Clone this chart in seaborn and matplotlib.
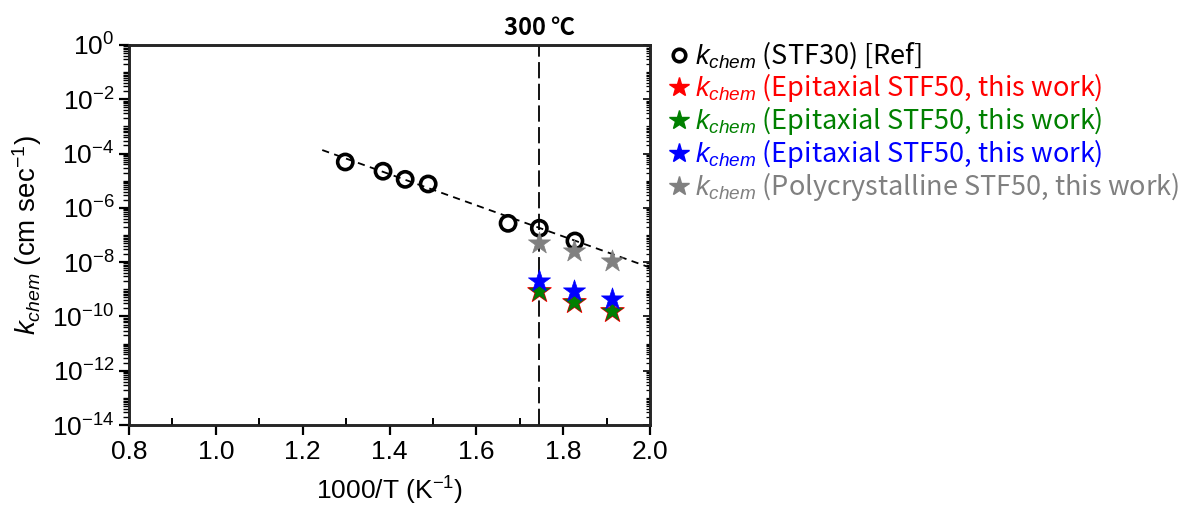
import numpy as np
import pandas as pd
import matplotlib
matplotlib.use("Agg")
import matplotlib.pyplot as plt
import seaborn as sns
from matplotlib.lines import Line2D
from matplotlib.ticker import LogLocator, FixedLocator, NullFormatter, FuncFormatter, MultipleLocator

# ---- data ----
ref_x = [1.298, 1.385, 1.436, 1.489, 1.673, 1.745, 1.827]
ref_logk = [-4.31, -4.65, -4.95, -5.12, -6.57, -6.75, -7.22]
epi_x = [1.745, 1.825, 1.912]
red_logk = [-9.05, -9.45, -9.80]
green_logk = [-9.05, -9.45, -9.80]
blue_logk = [-8.70, -9.06, -9.36]
poly_x = [1.745, 1.825, 1.912]
poly_logk = [-7.28, -7.58, -7.95]
fit_x = [1.245, 2.0]
fit_logk = [-3.87, -8.20]
vline_x = 1.745

labels = [r"$k_{chem}$ (STF30) [Ref]",
          r"$k_{chem}$ (Epitaxial STF50, this work)",
          r"$k_{chem}$ (Epitaxial STF50, this work)",
          r"$k_{chem}$ (Epitaxial STF50, this work)",
          r"$k_{chem}$ (Polycrystalline STF50, this work)"]
colors = ["black", "red", "green", "blue", "gray"]

sns.set_style("ticks")
plt.rcParams['font.family'] = ['Liberation Sans', 'DejaVu Sans']
plt.rcParams['mathtext.fontset'] = 'custom'
plt.rcParams['mathtext.rm'] = 'Liberation Sans'
plt.rcParams['mathtext.it'] = 'Liberation Sans:italic'
for k in ['text.color', 'axes.labelcolor', 'xtick.color', 'ytick.color']:
    plt.rcParams[k] = 'black'

fig = plt.figure(figsize=(11.86, 5.13), dpi=100)
ax = fig.add_axes([0.1088, 0.1715, 0.4393, 0.7408])

def tolin(v):
    return [10 ** a for a in v]

sns.lineplot(x=fit_x, y=tolin(fit_logk), ax=ax, color="black", lw=1.3,
             linestyle=(0, (4, 3)), legend=False)
ax.axvline(vline_x, color="black", lw=1.3, linestyle=(0, (9, 3)))

sns.scatterplot(x=ref_x, y=tolin(ref_logk), ax=ax, marker="o", s=120,
                facecolor="none", edgecolor="black", linewidth=2.6, label=labels[0], zorder=3)
sns.scatterplot(x=epi_x, y=tolin(red_logk), ax=ax, marker="*", s=310,
                color="red", edgecolor="red", linewidth=0.8, label=labels[1], zorder=3)
sns.scatterplot(x=epi_x, y=tolin(green_logk), ax=ax, marker="*", s=250,
                color="green", edgecolor="#1a5e1a", linewidth=0.5, label=labels[2], zorder=4)
sns.scatterplot(x=epi_x, y=tolin(blue_logk), ax=ax, marker="*", s=280,
                color="blue", edgecolor="blue", linewidth=0.5, label=labels[3], zorder=4)
sns.scatterplot(x=poly_x, y=tolin(poly_logk), ax=ax, marker="*", s=280,
                color="gray", edgecolor="gray", linewidth=0.5, label=labels[4], zorder=4)

ax.set_yscale("log")
ax.set_xlim(0.8, 2.0)
ax.set_ylim(1e-14, 1e0)
ax.xaxis.set_major_locator(MultipleLocator(0.2))
ax.xaxis.set_minor_locator(MultipleLocator(0.1))
ax.xaxis.set_major_formatter(FuncFormatter(lambda v, p: f"{v:.1f}"))
ax.yaxis.set_major_locator(FixedLocator([10.0 ** e for e in range(-14, 1, 2)]))
ax.yaxis.set_major_formatter(FuncFormatter(lambda v, p: r"$10^{%d}$" % round(np.log10(v))))
ax.yaxis.set_minor_locator(LogLocator(base=10, subs=np.arange(1, 10) * 1.0, numticks=100))
ax.yaxis.set_minor_formatter(NullFormatter())

for s in ax.spines.values():
    s.set_linewidth(1.8)
    s.set_color("black")

ax.tick_params(axis="x", which="major", direction="out", length=7, width=1.6, labelsize=19, bottom=True, top=False)
ax.tick_params(axis="x", which="minor", direction="in", length=5, width=1.4, bottom=True, top=False)
ax.tick_params(axis="y", which="major", direction="out", length=7, width=1.6, labelsize=19, left=True, right=False)
ax.tick_params(axis="y", which="minor", direction="out", length=4, width=1.0, left=True, right=False)

# right-side inward ticks
axr = ax.twinx()
axr.set_yscale("log")
axr.set_ylim(ax.get_ylim())
axr.yaxis.set_major_locator(FixedLocator([10.0 ** e for e in range(-14, 1, 2)]))
axr.yaxis.set_minor_locator(LogLocator(base=10, subs=np.arange(1, 10) * 1.0, numticks=100))
axr.yaxis.set_major_formatter(NullFormatter())
axr.yaxis.set_minor_formatter(NullFormatter())
axr.tick_params(axis="y", which="major", direction="in", length=5, width=1.2, right=True)
axr.tick_params(axis="y", which="minor", direction="in", length=3, width=0.9, right=True)
for s in axr.spines.values():
    s.set_linewidth(1.8)

ax.set_xlabel(r"1000/T (K$^{-1}$)", fontsize=19, labelpad=8)
ax.set_ylabel(r"$k_{chem}$ (cm sec$^{-1}$)", fontsize=20, labelpad=6)

ax.text(vline_x, 1.012, "300 ℃", transform=ax.get_xaxis_transform(), ha="center", va="bottom",
        fontsize=17, fontweight="bold", family=["Noto Sans CJK KR", "DejaVu Sans"])

ax.get_legend().remove()
hs = [Line2D([], [], marker="o", ls="", mfc="none", mec="black", mew=2.6, ms=9),
      Line2D([], [], marker="*", ls="", color="red", ms=15),
      Line2D([], [], marker="*", ls="", color="green", ms=15),
      Line2D([], [], marker="*", ls="", color="blue", ms=15),
      Line2D([], [], marker="*", ls="", color="gray", ms=15)]
leg = fig.legend(hs, labels, loc="upper left", bbox_to_anchor=(0.545, 0.97), frameon=False,
                 handlelength=0.6, handletextpad=0.3, labelspacing=0.0,
                 prop={"family": ["Noto Sans CJK KR", "DejaVu Sans"], "size": 19.5})
for t, c in zip(leg.get_texts(), colors):
    t.set_color(c)

fig.savefig("out.png", dpi=100)
